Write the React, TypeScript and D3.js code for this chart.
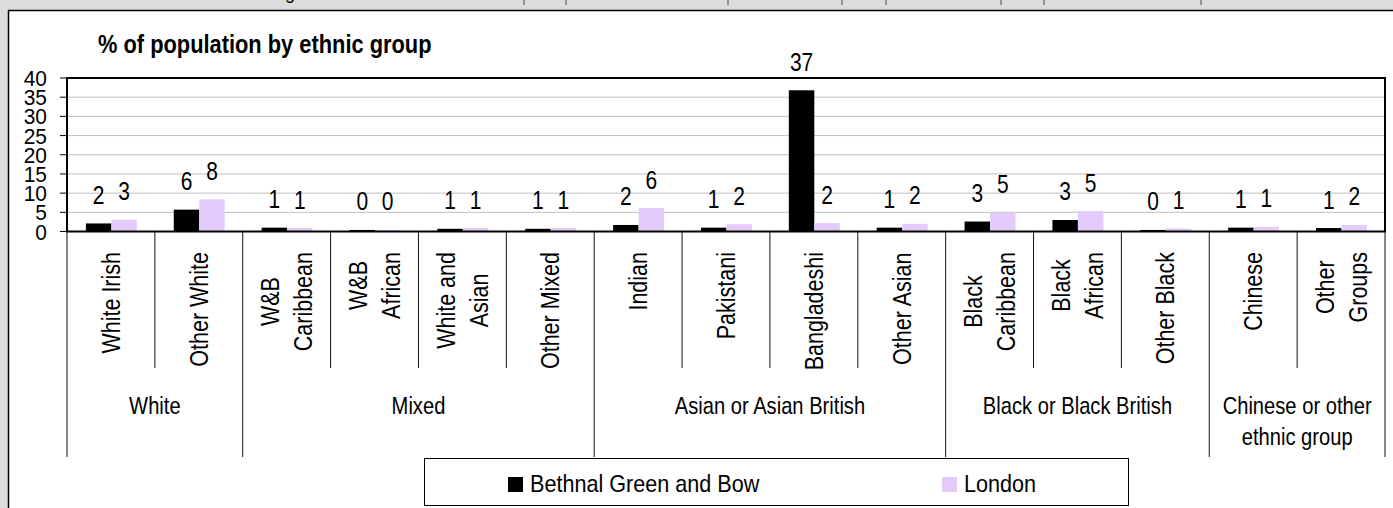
import React from 'react';
import * as d3 from 'd3';

const categories = [
  'White Irish', 'Other White', 'W&B\nCaribbean', 'W&B\nAfrican', 'White and\nAsian', 'Other Mixed',
  'Indian', 'Pakistani', 'Bangladeshi', 'Other Asian', 'Black\nCaribbean', 'Black\nAfrican', 'Other Black',
  'Chinese', 'Other\nGroups',
];
const groups = ['White', 'Mixed', 'Asian or Asian British', 'Black or Black British', 'Chinese or other\nethnic group'];
const groupSizes = [2, 4, 4, 3, 2];
const bethnal = [2.1, 5.7, 1.0, 0.4, 0.7, 0.7, 1.7, 1.0, 36.8, 1.0, 2.6, 3.0, 0.4, 1.0, 0.9];
const london = [3.1, 8.4, 0.9, 0.4, 0.9, 0.9, 6.1, 1.9, 2.2, 2.0, 4.9, 5.3, 0.8, 1.2, 1.7];
const yTicks = [0, 5, 10, 15, 20, 25, 30, 35, 40];
const seriesNames = ['Bethnal Green and Bow', 'London'];
const seriesColors = ['#000000', '#E5CBFB'];
const title = '% of population by ethnic group';

const W = 1393;
const H = 508;
const FONT = "'Liberation Sans', Arial, sans-serif";

function NT({ x, y, size, sx = 0.84, anchor = 'start', weight = 'normal', rot = 0, children }: any) {
  return (
    <g transform={`translate(${x},${y}) rotate(${rot}) scale(${sx},1)`}>
      <text textAnchor={anchor} fontSize={size} fontWeight={weight} fontFamily={FONT} fill="#000">
        {children}
      </text>
    </g>
  );
}

let ctx: CanvasRenderingContext2D | null = null;
function measure(s: string, size: number) {
  if (!ctx) ctx = document.createElement('canvas').getContext('2d');
  if (!ctx) return s.length * size * 0.5;
  ctx.font = `${size}px 'Liberation Sans', Arial, sans-serif`;
  return ctx.measureText(s).width;
}

export default function App() {
  const left = 67, right = 1385, top = 78, bottom = 231.5;
  const x = d3.scaleBand<string>().domain(categories).range([left, right]).padding(0);
  const y = d3.scaleLinear().domain([0, 40]).range([bottom, top]);
  const bw = x.bandwidth();
  const barOff = bw * 0.215;
  const barW = bw * 0.29;
  const series = [bethnal, london];

  const rotSize = 25, rotSx = 0.86, rotGap = 33, labelTop = 252;

  const bounds: number[] = [0];
  groupSizes.forEach((s, i) => bounds.push(bounds[i] + s));

  const marks = [524, 566, 728, 842, 886, 1001, 1044, 1201];

  return (
    <svg width={W} height={H} style={{ position: 'absolute', left: 0, top: 0 }}>
      <rect x={0} y={0} width={W} height={H} fill="#dcdcdc" />
      {marks.map((m, i) => (
        <line key={i} x1={m} x2={m} y1={0} y2={5} stroke="#444" strokeWidth={1} />
      ))}
      <text x={285} y={-1} fontSize={18} fontFamily={FONT}>g</text>
      <rect x={8} y={10} width={W - 8} height={H - 10} fill="#fff" />
      <line x1={8} x2={W} y1={10.5} y2={10.5} stroke="#000" strokeWidth={1.5} />
      <line x1={8.5} x2={8.5} y1={10} y2={H} stroke="#000" strokeWidth={1.5} />

      <NT x={98} y={53} size={26} sx={0.84} weight="bold">{title}</NT>

      {yTicks.filter((t) => t > 0 && t < 40).map((t) => (
        <line key={t} x1={left} x2={right} y1={y(t)} y2={y(t)} stroke="#c0c0c0" strokeWidth={1} />
      ))}
      {yTicks.map((t) => (
        <g key={t}>
          <line x1={60} x2={left} y1={y(t)} y2={y(t)} stroke="#000" strokeWidth={1} />
          <NT x={47} y={y(t) + 8} size={22} sx={0.95} anchor="end">{String(t)}</NT>
        </g>
      ))}

      {categories.map((c, i) =>
        series.map((s, k) => (
          <rect
            key={c + k}
            x={(x(c) as number) + barOff + k * barW}
            y={y(s[i])}
            width={barW}
            height={bottom - y(s[i])}
            fill={seriesColors[k]}
          />
        ))
      )}
      {categories.map((c, i) =>
        series.map((s, k) => (
          <NT
            key={'l' + c + k}
            x={(x(c) as number) + barOff + k * barW + barW / 2}
            y={y(s[i]) - 19.5}
            size={25}
            sx={0.84}
            anchor="middle"
          >
            {String(Math.round(s[i]))}
          </NT>
        ))
      )}

      <rect x={left} y={top} width={right - left} height={bottom - top} fill="none" stroke="#000" strokeWidth={2} />

      {d3.range(categories.length + 1).map((j) => {
        const xx = j < categories.length ? (x(categories[j]) as number) : right;
        const isGroup = bounds.includes(j);
        return (
          <line key={'d' + j} x1={xx} x2={xx} y1={bottom} y2={isGroup ? 457 : 368} stroke="#111" strokeWidth={1} />
        );
      })}

      {categories.map((c) => {
        const lines = c.split('\n');
        const n = lines.length;
        const M = Math.max(...lines.map((l) => measure(l, rotSize) * rotSx));
        const cx = (x(c) as number) + bw / 2;
        return lines.map((l, j) => (
          <NT
            key={c + j}
            x={cx + (j - (n - 1) / 2) * rotGap + 9}
            y={labelTop + M / 2}
            size={rotSize}
            sx={rotSx}
            anchor="middle"
            rot={-90}
          >
            {l}
          </NT>
        ));
      })}

      {groups.map((g, gi) => {
        const x0 = x(categories[bounds[gi]]) as number;
        const x1 = bounds[gi + 1] < categories.length ? (x(categories[bounds[gi + 1]]) as number) : right;
        const lines = g.split('\n');
        return lines.map((l, j) => (
          <NT key={g + j} x={(x0 + x1) / 2} y={414 + j * 31} size={24} sx={0.84} anchor="middle">
            {l}
          </NT>
        ));
      })}

      <rect x={424.5} y={458.5} width={704} height={47} fill="#fff" stroke="#000" strokeWidth={1} />
      {seriesNames.map((s, k) => {
        const lx = [508, 942][k];
        return (
          <g key={s}>
            <rect x={lx} y={477} width={15} height={15} fill={seriesColors[k]} />
            <NT x={lx + 22} y={492} size={24} sx={0.9}>{s}</NT>
          </g>
        );
      })}
    </svg>
  );
}
